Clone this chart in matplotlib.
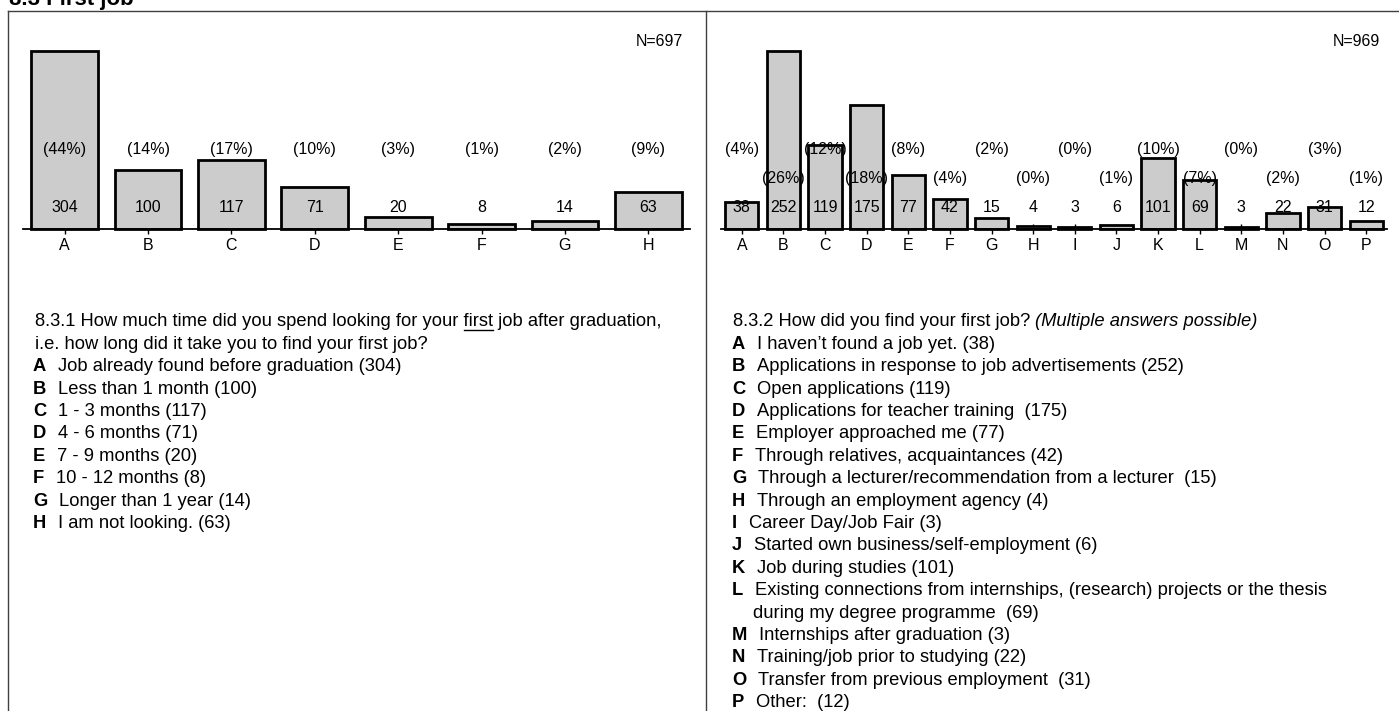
import matplotlib.pyplot as plt
from matplotlib.lines import Line2D
import numpy as np

# 8.3.1 time spent looking for first job
time_letters = ["A", "B", "C", "D", "E", "F", "G", "H"]
time_counts = [304, 100, 117, 71, 20, 8, 14, 63]
time_pcts = [44, 14, 17, 10, 3, 1, 2, 9]
time_n = 697
time_texts = ["Job already found before graduation ",
              "Less than 1 month ",
              "1 - 3 months ",
              "4 - 6 months ",
              "7 - 9 months ",
              "10 - 12 months ",
              "Longer than 1 year ",
              "I am not looking. "]

# 8.3.2 how the first job was found
how_letters = ["A", "B", "C", "D", "E", "F", "G", "H",
               "I", "J", "K", "L", "M", "N", "O", "P"]
how_counts = [38, 252, 119, 175, 77, 42, 15, 4, 3, 6, 101, 69, 3, 22, 31, 12]
how_pcts = [4, 26, 12, 18, 8, 4, 2, 0, 0, 1, 10, 7, 0, 2, 3, 1]
how_n = 969
how_texts = ["I haven\u2019t found a job yet. ",
             "Applications in response to job advertisements ",
             "Open applications ",
             "Applications for teacher training  ",
             "Employer approached me ",
             "Through relatives, acquaintances ",
             "Through a lecturer/recommendation from a lecturer  ",
             "Through an employment agency ",
             "Career Day/Job Fair ",
             "Started own business/self-employment ",
             "Job during studies ",
             "Existing connections from internships, (research) projects or the thesis\nduring my degree programme  ",
             "Internships after graduation ",
             "Training/job prior to studying ",
             "Transfer from previous employment  ",
             "Other:  "]

W, H = 1399, 711
plt.rcParams['font.family'] = ['Liberation Sans', 'DejaVu Sans']

fig = plt.figure(figsize=(W / 100, H / 100), dpi=100)
renderer = fig.canvas.get_renderer()


def fx(x):
    return x / W


def fy(y):
    return 1 - y / H


def text_width(s, **kw):
    t = fig.text(0, 0, s, **kw)
    w = t.get_window_extent(renderer).width
    t.remove()
    return w


# frame lines
frame = dict(color='#404040', lw=1.0)
fig.add_artist(Line2D([fx(8), 1], [fy(11), fy(11)], **frame))
fig.add_artist(Line2D([fx(8), fx(8)], [fy(11), 0], **frame))
fig.add_artist(Line2D([fx(706), fx(706)], [fy(11), 0], **frame))

fig.text(fx(9), fy(5), "8.3 First job", fontsize=16, fontweight='bold', va='baseline')


def draw_bars(ax, letters, counts, pcts, n, stagger):
    x = np.arange(len(counts))
    ax.bar(x, counts, width=0.8, color='#cccccc', edgecolor='black',
           linewidth=2.0, zorder=2, clip_on=False)
    ax.set_xlim(-0.5, len(counts) - 0.5)
    ax.set_ylim(0, max(counts))
    tr = ax.get_xaxis_transform()
    for i, (c, p) in enumerate(zip(counts, pcts)):
        ax.text(i, 0.118, str(c), transform=tr, ha='center', va='center',
                fontsize=11.5, zorder=3)
        yp = 0.281 if (stagger and i % 2 == 1) else 0.444
        ax.text(i, yp, "({}%)".format(p), transform=tr, ha='center',
                va='center', fontsize=11.5, zorder=3)
    ax.text(0.989, 1.056, "N={}".format(n), transform=ax.transAxes,
            ha='right', va='center', fontsize=11.5)
    for s in ['top', 'left', 'right']:
        ax.spines[s].set_visible(False)
    ax.spines['bottom'].set_linewidth(1.3)
    ax.spines['bottom'].set_zorder(4)
    ax.set_yticks([])
    ax.set_xticks(x, letters)
    ax.tick_params(axis='x', direction='inout', length=7, width=1,
                   pad=3, labelsize=11.5)
    ax.patch.set_visible(False)


ax1 = fig.add_axes([fx(23), fy(229), (690 - 23) / W, 178 / H])
draw_bars(ax1, time_letters, time_counts, time_pcts, time_n, False)

ax2 = fig.add_axes([fx(721), fy(229), (1387 - 721) / W, 178 / H])
draw_bars(ax2, how_letters, how_counts, how_pcts, how_n, True)

# question texts
fs = 13.2
step = 22.4
base = 6.5


def draw_items(x0, y0, letters, texts, counts):
    y = y0
    for let, txt, c in zip(letters, texts, counts):
        wl = text_width(let, fontsize=fs, fontweight='bold')
        fig.text(fx(x0), fy(y + base), let, fontsize=fs, fontweight='bold',
                 va='baseline')
        lines = (txt + "({})".format(c)).split("\n")
        fig.text(fx(x0 + wl + 12), fy(y + base), lines[0], fontsize=fs,
                 va='baseline')
        for extra in lines[1:]:
            y += step
            fig.text(fx(x0 + 21), fy(y + base), extra, fontsize=fs,
                     va='baseline')
        y += step


# left question, "first" underlined
q1a = "8.3.1 How much time did you spend looking for your first job after graduation,"
q1b = "i.e. how long did it take you to find your first job?"
lx = 35
ly = 320
fig.text(fx(lx), fy(ly + base), q1a, fontsize=fs, va='baseline')
w_to = text_width("8.3.1 How much time did you spend looking for your first", fontsize=fs)
w_first = text_width("first", fontsize=fs)
fig.add_artist(Line2D([fx(lx + w_to - w_first), fx(lx + w_to)],
                      [fy(ly + base + 3), fy(ly + base + 3)], color='black', lw=1))
fig.text(fx(lx), fy(ly + step + base), q1b, fontsize=fs, va='baseline')
draw_items(33, ly + 2 * step, time_letters, time_texts, time_counts)

# right question with italic note
rx = 733
ry = 320
q2 = "8.3.2 How did you find your first job?"
fig.text(fx(rx), fy(ry + base), q2, fontsize=fs, va='baseline')
w_q2 = text_width(q2, fontsize=fs)
fig.text(fx(rx + w_q2 + 5), fy(ry + base), "(Multiple answers possible)",
         fontsize=fs, fontstyle='italic', va='baseline')
draw_items(732, ry + step, how_letters, how_texts, how_counts)

fig.savefig("out.png", dpi=100)
